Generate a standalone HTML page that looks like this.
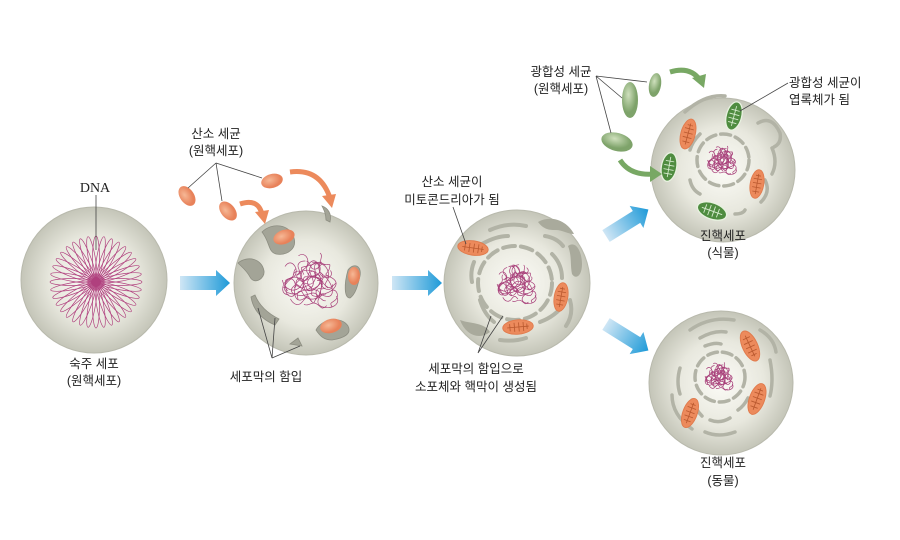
<!DOCTYPE html>
<html><head><meta charset="utf-8"><style>
html,body{margin:0;padding:0;background:#fff;width:900px;height:540px;overflow:hidden}
text{font-family:"Liberation Sans","Noto Sans CJK KR",sans-serif;font-size:12.5px;fill:#222}
</style></head><body>
<svg width="900" height="540" viewBox="0 0 900 540" xmlns="http://www.w3.org/2000/svg">
<defs>
<radialGradient id="cg" cx="50%" cy="50%" r="50%">
<stop offset="0" stop-color="#fbfbf6"/><stop offset="0.6" stop-color="#e8e8de"/><stop offset="1" stop-color="#c4c5b8"/></radialGradient>
<linearGradient id="bl" x1="0" x2="1"><stop offset="0" stop-color="#cfe6f5"/><stop offset="1" stop-color="#1e9ad8"/></linearGradient>
<radialGradient id="or" cx="40%" cy="40%"><stop offset="0" stop-color="#f6b896"/><stop offset="1" stop-color="#e8825a"/></radialGradient>
<radialGradient id="gr" cx="40%" cy="35%"><stop offset="0" stop-color="#cfe0bd"/><stop offset="1" stop-color="#7ea36a"/></radialGradient>
<g id="ba"><path d="M0,-7 H36 V-13 L50,0 L36,13 V7 H0 Z" fill="url(#bl)"/></g>
<g id="mito"><ellipse rx="17" ry="8" fill="#ec8a5c" stroke="#e07a4c"/><path d="M-12,0 H12 M-9,-4 v8 M-4,-5 v10 M1,-5 v10 M6,-5 v10 M10,-3 v6" stroke="#b9582e" stroke-width="0.9"/></g>
<g id="chl"><ellipse rx="17" ry="9" fill="#4f8c40" stroke="#e8f2e0" stroke-width="1.5"/><path d="M-12,0 H12 M-8,-5 v10 M-3,-6 v12 M2,-6 v12 M7,-5 v10" stroke="#d8ecd0" stroke-width="1"/></g>
<g id="tang" fill="none" stroke="#a8407a" stroke-width="0.7" style="vector-effect:non-scaling-stroke">
<path style="vector-effect:non-scaling-stroke" d="M-20,-10 c5,-8 12,4 6,8 s-10,10 -2,12 s12,-6 8,-12 s10,-8 14,0 s-4,12 4,14 s6,-10 -2,-16 s4,-12 -6,-8 s-12,0 -8,8"/>
<path style="vector-effect:non-scaling-stroke" d="M-18,8 c-6,-6 4,-14 10,-8 s2,10 10,6 s4,-12 12,-8 s2,10 -4,12 s-8,8 -2,10 s14,-2 10,-8"/>
<path style="vector-effect:non-scaling-stroke" d="M-10,-18 c6,-4 10,6 4,10 s-8,6 0,10 s10,-4 8,-10 s8,-6 10,2 s-6,8 0,12"/>
<path style="vector-effect:non-scaling-stroke" d="M-22,0 c2,8 10,10 14,4 s8,-10 14,-4 s6,8 12,2"/>
<path style="vector-effect:non-scaling-stroke" d="M-14,-4 c3,-5 8,-2 6,2 s-6,4 -2,7 s6,-3 9,0 s-2,6 3,7 s5,-4 8,-1 M-4,-14 c4,2 2,6 6,6 s4,-6 8,-3 M-16,14 c2,4 6,6 9,2 s4,-4 7,0"/>
<path style="vector-effect:non-scaling-stroke" d="M6,-20 c3,3 -2,6 2,8 s6,-2 5,3 s-5,4 -1,6 M-6,18 c4,2 6,-3 10,0 s3,4 7,1 M14,8 c4,-2 6,3 4,6 s-6,2 -3,6"/>
</g>
</defs>

<!-- Cell 1 -->
<circle cx="94" cy="280" r="73" fill="url(#cg)" stroke="#b8b9ac"/>
<g transform="translate(96,282)" fill="none" stroke="#b0407e" stroke-width="0.7">
<ellipse cx="24" cy="0" rx="22" ry="3.5"/><ellipse cx="24" cy="0" rx="22" ry="3.5" transform="rotate(10)"/><ellipse cx="24" cy="0" rx="22" ry="3.5" transform="rotate(20)"/><ellipse cx="24" cy="0" rx="22" ry="3.5" transform="rotate(30)"/><ellipse cx="24" cy="0" rx="22" ry="3.5" transform="rotate(40)"/><ellipse cx="24" cy="0" rx="22" ry="3.5" transform="rotate(50)"/><ellipse cx="24" cy="0" rx="22" ry="3.5" transform="rotate(60)"/><ellipse cx="24" cy="0" rx="22" ry="3.5" transform="rotate(70)"/><ellipse cx="24" cy="0" rx="22" ry="3.5" transform="rotate(80)"/><ellipse cx="24" cy="0" rx="22" ry="3.5" transform="rotate(90)"/><ellipse cx="24" cy="0" rx="22" ry="3.5" transform="rotate(100)"/><ellipse cx="24" cy="0" rx="22" ry="3.5" transform="rotate(110)"/><ellipse cx="24" cy="0" rx="22" ry="3.5" transform="rotate(120)"/><ellipse cx="24" cy="0" rx="22" ry="3.5" transform="rotate(130)"/><ellipse cx="24" cy="0" rx="22" ry="3.5" transform="rotate(140)"/><ellipse cx="24" cy="0" rx="22" ry="3.5" transform="rotate(150)"/><ellipse cx="24" cy="0" rx="22" ry="3.5" transform="rotate(160)"/><ellipse cx="24" cy="0" rx="22" ry="3.5" transform="rotate(170)"/><ellipse cx="24" cy="0" rx="22" ry="3.5" transform="rotate(180)"/><ellipse cx="24" cy="0" rx="22" ry="3.5" transform="rotate(190)"/><ellipse cx="24" cy="0" rx="22" ry="3.5" transform="rotate(200)"/><ellipse cx="24" cy="0" rx="22" ry="3.5" transform="rotate(210)"/><ellipse cx="24" cy="0" rx="22" ry="3.5" transform="rotate(220)"/><ellipse cx="24" cy="0" rx="22" ry="3.5" transform="rotate(230)"/><ellipse cx="24" cy="0" rx="22" ry="3.5" transform="rotate(240)"/><ellipse cx="24" cy="0" rx="22" ry="3.5" transform="rotate(250)"/><ellipse cx="24" cy="0" rx="22" ry="3.5" transform="rotate(260)"/><ellipse cx="24" cy="0" rx="22" ry="3.5" transform="rotate(270)"/><ellipse cx="24" cy="0" rx="22" ry="3.5" transform="rotate(280)"/><ellipse cx="24" cy="0" rx="22" ry="3.5" transform="rotate(290)"/><ellipse cx="24" cy="0" rx="22" ry="3.5" transform="rotate(300)"/><ellipse cx="24" cy="0" rx="22" ry="3.5" transform="rotate(310)"/><ellipse cx="24" cy="0" rx="22" ry="3.5" transform="rotate(320)"/><ellipse cx="24" cy="0" rx="22" ry="3.5" transform="rotate(330)"/><ellipse cx="24" cy="0" rx="22" ry="3.5" transform="rotate(340)"/><ellipse cx="24" cy="0" rx="22" ry="3.5" transform="rotate(350)"/>
<circle r="5" fill="#b0407e" stroke="none"/>
</g>
<line x1="96" y1="195" x2="96" y2="250" stroke="#444" stroke-width="0.8"/>
<text x="95" y="192" text-anchor="middle" style="font-family:'Liberation Serif',serif;font-size:14px">DNA</text>
<text x="94" y="368" text-anchor="middle">숙주 세포</text>
<text x="94" y="385" text-anchor="middle">(원핵세포)</text>

<use href="#ba" x="180" y="283"/>
<use href="#ba" x="392" y="283"/>

<!-- Cell 2 -->
<circle cx="306" cy="283" r="72" fill="url(#cg)" stroke="#b8b9ac"/>
<g fill="#a3a497" stroke="#8d8e82" stroke-width="0.8">
<path d="M262,232 c10,-10 28,-8 32,6 c3,10 -6,18 -18,16 c-8,-2 -6,-12 -14,-22z"/>
<path d="M238,263 c10,-8 24,-4 26,8 c1,8 -10,14 -14,6 c-3,-6 -8,-10 -12,-14z"/>
<path d="M255,295 c4,10 12,18 24,24 l-4,6 c-14,-6 -22,-16 -24,-28z"/>
<path d="M348,270 c6,-8 14,-4 12,6 c-2,8 -4,18 -10,22 c-6,0 -6,-14 -2,-28z"/>
<path d="M316,330 c6,-12 26,-14 32,-4 c4,8 -4,12 -16,14 c-8,0 -12,-4 -16,-10z"/>
<path d="M290,344 l8,-6 l4,8z"/>
<path d="M322,206 c6,2 10,8 8,16 l-4,-2 c0,-6 -2,-10 -4,-14z"/>
</g>
<ellipse cx="284" cy="237" rx="11" ry="7" fill="url(#or)" transform="rotate(-20 284 237)"/>
<ellipse cx="354" cy="276" rx="6" ry="9" fill="url(#or)"/>
<ellipse cx="331" cy="326" rx="11" ry="7" fill="url(#or)" transform="rotate(-15 331 326)"/>
<use href="#tang" transform="translate(312,280) scale(1.35)"/>
<use href="#tang" transform="translate(310,284) scale(1.1) rotate(120)"/>
<path d="M272,358 L258,308 M272,358 L275,318 M272,358 L300,346" stroke="#444" stroke-width="0.8" fill="none"/>
<text x="266" y="381" text-anchor="middle">세포막의 함입</text>

<!-- oxygen bacteria -->
<ellipse cx="187" cy="196" rx="7" ry="11" fill="url(#or)" transform="rotate(-35 187 196)"/>
<ellipse cx="228" cy="211" rx="7" ry="11" fill="url(#or)" transform="rotate(-40 228 211)"/>
<ellipse cx="272" cy="181" rx="11" ry="7" fill="url(#or)" transform="rotate(-15 272 181)"/>
<path d="M216,163 L188,188 M216,163 L222,201 M216,163 L262,178" stroke="#444" stroke-width="0.8" fill="none"/>
<text x="216" y="138" text-anchor="middle">산소 세균</text>
<text x="216" y="155" text-anchor="middle">(원핵세포)</text>
<path d="M240,204 q18,-6 22,10" stroke="#ec8a5c" stroke-width="5" fill="none"/><path d="M255,212 l14,-2 l-4,14z" fill="#ec8a5c"/>
<path d="M290,172 q30,-4 40,26" stroke="#ec8a5c" stroke-width="5" fill="none"/><path d="M322,196 l14,-2 l-4,14z" fill="#ec8a5c"/>

<!-- Cell 3 -->
<circle cx="517" cy="283" r="73" fill="url(#cg)" stroke="#b8b9ac"/>
<g fill="#a9aa9c" stroke="none">
<path d="M538,222 c14,-8 30,0 36,12 c-6,0 -12,-4 -18,-4 c-6,0 -12,0 -18,-8z"/>
<path d="M568,246 c8,-6 14,6 14,18 c0,12 -6,16 -10,10 c-2,-10 0,-18 -4,-28z"/>
<path d="M460,320 c10,4 24,2 30,12 c-10,8 -24,4 -30,-12z"/>
</g>
<g fill="none" stroke="#b2b3a6" stroke-width="4" stroke-linecap="round">
<circle cx="515" cy="283" r="37" stroke-dasharray="12 6"/>
<path d="M490,230 q18,-8 36,-4 M482,244 q14,-8 26,-8 M545,236 q12,2 18,10 M474,262 q-4,10 -2,20 M480,300 q4,14 14,22 M540,322 q16,-6 24,-18 M552,254 q10,10 10,24 M500,340 q14,2 26,-2 M570,300 q4,14 -4,26"/>
</g>
<use href="#mito" transform="translate(473,248) rotate(8) scale(0.9)"/>
<use href="#mito" transform="translate(561,297) rotate(-80) scale(0.85)"/>
<use href="#mito" transform="translate(518,327) rotate(-5) scale(0.9)"/>
<use href="#tang" transform="translate(518,284) scale(0.95)"/>
<use href="#tang" transform="translate(516,282) scale(0.8) rotate(100)"/>
<path d="M478,353 L491,316 M478,353 L503,316" stroke="#444" stroke-width="0.8"/>
<path d="M453,207 L466,244" stroke="#444" stroke-width="0.8"/>
<text x="452" y="186" text-anchor="middle">산소 세균이</text>
<text x="452" y="204" text-anchor="middle">미토콘드리아가 됨</text>
<text x="476" y="373" text-anchor="middle">세포막의 함입으로</text>
<text x="476" y="391" text-anchor="middle">소포체와 핵막이 생성됨</text>

<use href="#ba" transform="translate(606,236) rotate(-32)"/>
<use href="#ba" transform="translate(606,324) rotate(32)"/>

<!-- Cell 4 plant -->
<circle cx="723" cy="170" r="72" fill="url(#cg)" stroke="#b8b9ac"/>
<g fill="none" stroke="#b2b3a6" stroke-width="3.5" stroke-linecap="round">
<circle cx="723" cy="160" r="26" stroke-dasharray="10 5"/>
<path d="M685,112 q20,-18 40,-16 M758,123 q14,-8 22,10 q2,10 -6,14 M772,148 q6,14 0,26 M765,180 q6,12 -4,22 M690,180 q2,10 10,14 M700,134 q-8,8 -10,16 M735,214 q8,0 10,-4"/>
</g>
<use href="#mito" transform="translate(688,134) rotate(-75) scale(0.9)"/>
<use href="#mito" transform="translate(757,184) rotate(-80) scale(0.85)"/>
<use href="#chl" transform="translate(734,116) rotate(-75) scale(0.85)"/>
<use href="#chl" transform="translate(669,167) rotate(-80) scale(0.85)"/>
<use href="#chl" transform="translate(712,211) rotate(20) scale(0.9)"/>
<use href="#tang" transform="translate(723,160) scale(0.7)"/>
<use href="#tang" transform="translate(722,161) scale(0.6) rotate(110)"/>
<text x="723" y="240" text-anchor="middle">진핵세포</text>
<text x="723" y="257" text-anchor="middle">(식물)</text>
<!-- green bacteria -->
<ellipse cx="630" cy="100" rx="8" ry="18" fill="url(#gr)"/>
<ellipse cx="655" cy="85" rx="6" ry="12" fill="url(#gr)" transform="rotate(10 655 85)"/>
<ellipse cx="617" cy="142" rx="16" ry="9" fill="url(#gr)" transform="rotate(15 617 142)"/>
<path d="M596,76 L647,82 M596,76 L622,98 M596,76 L611,133" stroke="#444" stroke-width="0.8" fill="none"/>
<text x="561" y="76" text-anchor="middle">광합성 세균</text>
<text x="561" y="93" text-anchor="middle">(원핵세포)</text>
<path d="M670,72 q20,-6 30,8" stroke="#78a864" stroke-width="5" fill="none"/><path d="M692,78 l14,-4 l-2,14z" fill="#78a864"/>
<path d="M620,160 q10,16 34,14" stroke="#78a864" stroke-width="5" fill="none"/><path d="M650,166 l12,8 l-12,8z" fill="#78a864"/>
<path d="M740,111 L788,83" stroke="#444" stroke-width="0.8"/>
<text x="789" y="87">광합성 세균이</text>
<text x="789" y="104">엽록체가 됨</text>

<!-- Cell 5 animal -->
<circle cx="721" cy="383" r="72" fill="url(#cg)" stroke="#b8b9ac"/>
<g fill="none" stroke="#b2b3a6" stroke-width="3.5" stroke-linecap="round">
<circle cx="720" cy="377" r="25" stroke-dasharray="10 5"/>
<path d="M690,330 q20,-14 44,-10 M700,338 q14,-8 26,-6 M705,346 q10,-4 16,-2 M760,330 q14,8 16,22 M770,360 q4,20 0,36 M680,368 q-4,14 0,26 M692,400 q4,10 10,16 M710,420 q10,4 20,-2 M705,432 q14,6 30,0 M672,395 q0,20 20,34 M738,410 q6,-4 10,-12"/>
</g>
<use href="#mito" transform="translate(750,346) rotate(65) scale(0.95)"/>
<use href="#mito" transform="translate(757,399) rotate(-70) scale(0.95)"/>
<use href="#mito" transform="translate(690,413) rotate(-70) scale(0.9)"/>
<use href="#tang" transform="translate(720,376) scale(0.68)"/>
<use href="#tang" transform="translate(719,377) scale(0.58) rotate(110)"/>
<text x="723" y="467" text-anchor="middle">진핵세포</text>
<text x="723" y="485" text-anchor="middle">(동물)</text>
</svg>
</body></html>
